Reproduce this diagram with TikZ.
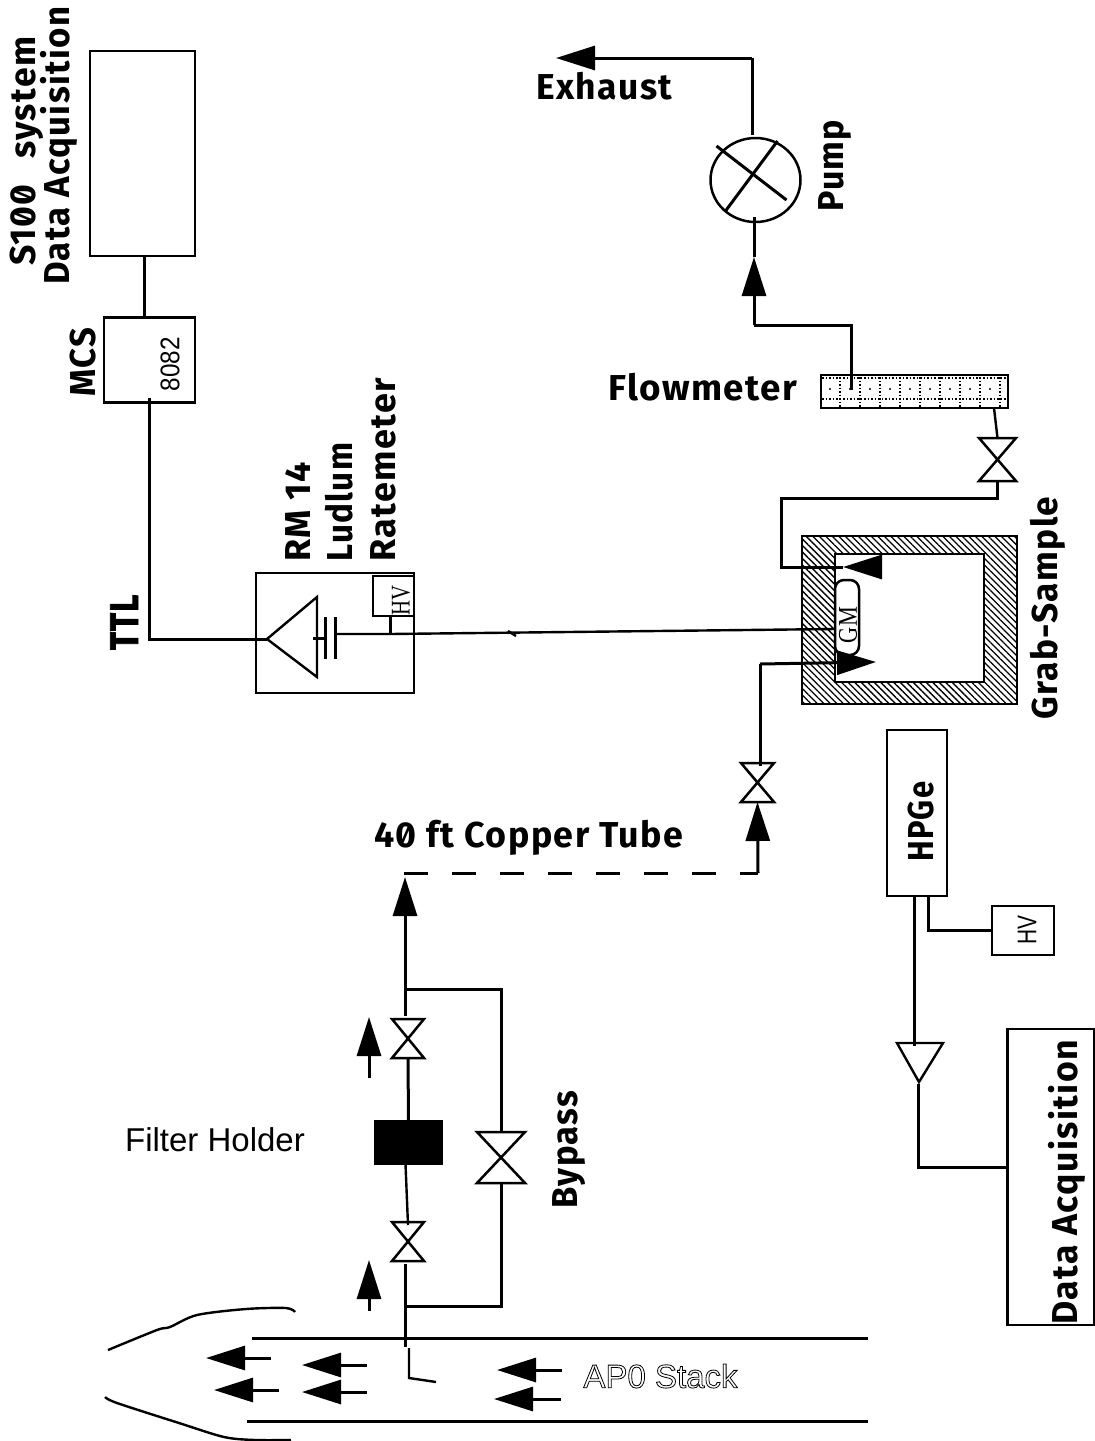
\documentclass[tikz,border=0pt]{standalone}
\usepackage{fontspec}
\setmainfont{Liberation Serif}
\setsansfont{Liberation Sans}
\newfontfamily\labfamily{Fira Sans}[Numbers=SlashedZero,LetterSpace=4]
\usetikzlibrary{arrows.meta, positioning, patterns.meta, shapes.geometric}
\newcommand{\lab}[2]{\resizebox{#1pt}{\height}{#2}}
\begin{document}
\begin{tikzpicture}[
   x=1pt, y=-1pt, line cap=butt,
   box/.style={draw, line width=2.5pt, inner sep=0pt, outer sep=0pt},
   pipe/.style={line width=3pt},
   wire/.style={line width=2.4pt},
   flow/.style={line width=3pt, -{Triangle[length=39pt,width=24pt]}},
   valve/.style={inner sep=0pt, outer sep=0pt, append after command={\pgfextra{
       \draw[line width=2.5pt] (\tikzlastnode.north west) -- (\tikzlastnode.south east)
          -- (\tikzlastnode.south west) -- (\tikzlastnode.north east) -- cycle;}}},
   stipple/.style={line width=1.5pt, dash pattern=on 1.5pt off 2pt},
   lab/.style={font=\labfamily\bfseries\fontsize{36}{40}\selectfont, inner sep=0pt, anchor=base west},
   vlab/.style={lab, rotate=90},
   plain/.style={font=\sffamily\fontsize{33}{36}\selectfont, inner sep=0pt},
   small/.style={font=\sffamily\fontsize{27}{29}\selectfont, rotate=90, inner sep=0pt},
   serif/.style={font=\rmfamily\fontsize{27}{29}\selectfont, rotate=90, inner sep=0pt}]
  \useasboundingbox (0,0) rectangle (1095,1441);

  \node[box, minimum width=105pt, minimum height=205pt] (s100) at (142.5,153.5) {};
  \node[box, minimum width=91pt, minimum height=85pt] (mcs) at (149.5,360) {};
  \node[small] (chip) at (170,364) {\lab{54}{8082}};
  \node[box, minimum width=158pt, minimum height=120pt] (rate) at (335,633) {};
  \node[box, minimum width=41pt, minimum height=40pt] (ratehv) at (393.5,596) {};
  \node[serif] (ratehvtext) at (401,600) {\lab{30}{HV}};

  \node[box, pattern={Lines[angle=-45,distance=4.6pt,line width=1.3pt]}, minimum width=215pt, minimum height=168pt] (grab) at (909.5,620) {};
  \node[box, fill=white, minimum width=149pt, minimum height=128pt] (cell) at (909.5,618) {};
  \node[box, fill=white, rounded corners=9pt, minimum width=24pt, minimum height=75pt] (gm) at (847,617.5) {};
  \node[serif] (gmtext) at (848,625) {\lab{36}{GM}};

  \foreach \i in {0,...,8} {
    \draw[stipple] (840+20*\i,377) -- (840+20*\i,407);
    \fill (830+20*\i,389) circle (1.2);
  }
  \draw[stipple] (822,378) -- (1007,378);
  \draw[stipple] (822,399) -- (1007,399);
  \node[box, minimum width=187pt, minimum height=33pt] (meter) at (914.5,391.5) {};
  \node[ellipse, draw, line width=2.5pt, inner sep=0pt, outer sep=0pt, minimum width=90pt, minimum height=84pt] (pump) at (755.5,180) {};

  \node[box, minimum width=60pt, minimum height=166pt] (hpge) at (917,813) {};
  \node[box, minimum width=62pt, minimum height=49pt] (hpgehv) at (1023,930.5) {};
  \node[small] (hpgehvtext) at (1027,930) {\lab{29}{HV}};
  \node[box, minimum width=87pt, minimum height=296pt] (daq) at (1051,1177) {};
  \node[box, fill=black, minimum width=67pt, minimum height=43pt] (holder) at (408.5,1142.5) {};

  \node[valve, minimum width=37pt, minimum height=43pt] (meterv) at (997.5,459.5) {};
  \node[valve, minimum width=33pt, minimum height=39pt] (tubev) at (757.5,782.5) {};
  \node[valve, minimum width=32pt, minimum height=39pt] (topv) at (408,1038.5) {};
  \node[valve, minimum width=32pt, minimum height=39pt] (lowv) at (408,1241.5) {};
  \node[valve, minimum width=48pt, minimum height=51pt] (bypassv) at (501,1157.5) {};

  \coordinate (ttlcorner) at (149,639);
  \coordinate (amptip) at (267,639);
  \coordinate (amptop) at (317,597);
  \coordinate (ampbot) at (317,677);
  \coordinate (platea) at (325,638);
  \coordinate (plateb) at (334,634);
  \coordinate (hvtee) at (390,634);
  \coordinate (gmin) at (835,629);
  \coordinate (kinka) at (508,631);
  \coordinate (kinkb) at (516,636);
  \coordinate (exhcorner) at (752,58);
  \coordinate (exhtip) at (556,58);
  \coordinate (pumpcorner) at (754,325);
  \coordinate (pumptip) at (754,257);
  \coordinate (meterin) at (851,390);
  \coordinate (meterout) at (781,498);
  \coordinate (grabback) at (781,567);
  \coordinate (grabtip) at (843,567);
  \coordinate (grabbase) at (880,567);
  \coordinate (grabin) at (760,664);
  \coordinate (grabhead) at (876,662);
  \coordinate (tubeend) at (758,873);
  \coordinate (tubeleft) at (404,873);
  \coordinate (tubetip) at (405,877);
  \coordinate (teehigh) at (405,989);
  \coordinate (teelow) at (405,1306);
  \coordinate (stackin) at (405,1347);
  \coordinate (deta) at (897,1043);
  \coordinate (detc) at (943,1043);
  \coordinate (dettip) at (919,1082);
  \coordinate (detcorner) at (918,1167);

  \draw[pipe] (144,256) -- (144,318);
  \draw[pipe] (149,398) -- (ttlcorner) -- (amptip);
  \draw[wire] (amptip) -- (amptop) -- (ampbot) -- cycle;
  \draw[pipe] (313,638) -- (platea);
  \draw[pipe] (325,617) -- (325,659);
  \draw[pipe] (335,617) -- (335,659);
  \draw[wire] (plateb) -- (hvtee) -- (gmin);
  \draw[wire] (kinka) -- (kinkb);
  \draw[pipe] (hvtee) -- (ratehv.south -| hvtee);

  \draw[pipe] (meterin) |- (pumpcorner);
  \draw[flow] (pumpcorner) -- (pumptip);
  \draw[pipe] (pumptip) -- ([xshift=-1.5pt,yshift=5pt]pump.south);
  \draw[pipe] ([xshift=-3.5pt,yshift=3pt]pump.north) -- (exhcorner);
  \draw[flow] (exhcorner) -- (exhtip);
  \draw[pipe] ([shift={(-39,-34)}]pump.center) -- ([shift={(31,20)}]pump.center);
  \draw[pipe] ([shift={(22,-39)}]pump.center) -- ([shift={(-30,31)}]pump.center);

  \draw[wire] (994,408) -- (meterv.north);
  \draw[pipe] (meterv.south) |- (meterout) -- (grabback) -- (grabtip);
  \draw[flow] (grabbase) -- (grabtip);
  \draw[pipe] ([xshift=2.5pt,yshift=-3pt]tubev.north) |- (grabin);
  \draw[flow] (grabin) -- (grabhead);

  \draw[flow] (tubeend) -- (tubev.south);
  \draw[pipe, dash pattern=on 24pt off 24pt] (tubeleft) -- (tubeend);
  \draw[flow] ([xshift=-3pt,yshift=3pt]topv.north) -- (tubetip);
  \draw[pipe] (topv.south) -- (holder.north);
  \draw[wire] ([xshift=-3pt]holder.south) -- ([yshift=-3pt]lowv.north);
  \draw[pipe] (stackin) -- ([xshift=-3pt,yshift=-3pt]lowv.south);
  \draw[pipe] (teelow) -| (bypassv.south);
  \draw[pipe] (bypassv.north) |- (teehigh);

  \draw[flow] (369,1078) -- (369,1017);
  \draw[flow] (369,1311) -- (369,1260);

  \draw[pipe] (914,896) -- (914,1046);
  \draw[wire] (deta) -- (detc) -- (dettip) -- cycle;
  \draw[pipe] (918,1084) -- (detcorner) -- (daq.west |- detcorner);
  \draw[pipe] (928,896) |- (hpgehv.west);

  \draw[pipe] (252,1338) -- (868,1338);
  \draw[pipe] (247,1421) -- (868,1421);
  \draw[wire] (409,1348) -- (409,1378) -- (436,1382);
  \draw[wire] plot[smooth] coordinates {(108,1350) (157,1330) (170,1327) (197,1315) (246,1309) (286,1308) (295,1312)};
  \draw[wire] plot[smooth] coordinates {(105,1397) (117,1403) (179,1423) (224,1437) (255,1440) (291,1440)};
  \foreach \xa/\xb/\yy in {271/206/1358, 279/214/1390, 367/302/1365, 367/302/1392, 562/497/1370, 561/494/1399}
    \draw[flow] (\xa,\yy) -- (\xb,\yy);

  \node[vlab] (sysa) at (35,266) {\lab{229}{S100\hspace{.45em} system}};
  \node[vlab] (sysb) at (70,285) {\lab{278}{Data Acquisition}};
  \node[vlab] (mcslab) at (95,397) {\lab{69}{MCS}};
  \node[vlab, font=\labfamily\bfseries\fontsize{40}{44}\selectfont] (ttl) at (138,650) {\lab{55}{\special{pdf:code 2 Tr 0.9 w}TTL\special{pdf:code 0 Tr}}};
  \node[vlab] (rm) at (310,562) {\lab{100}{RM 14}};
  \node[vlab] (ludlum) at (352,562) {\lab{119}{Ludlum}};
  \node[vlab] (ratemeter) at (395,562) {\lab{184}{Ratemeter}};
  \node[vlab] (pumplab) at (843,212) {\lab{92}{Pump}};
  \node[vlab] (grablab) at (1057,720) {\lab{223}{Grab-Sample}};
  \node[vlab] (hpgelab) at (933,862) {\lab{80}{HPGe}};
  \node[vlab] (bypasslab) at (577,1209) {\lab{118}{Bypass}};
  \node[vlab] (daqlab) at (1077,1325) {\lab{285}{Data Acquisition}};
  \node[lab] (exhaust) at (536,99) {\lab{136}{Exhaust}};
  \node[lab] (flowlab) at (608,400) {\lab{189}{Flowmeter}};
  \node[lab] (tubelab) at (374,847) {\lab{309}{40 ft Copper Tube}};
  \node[plain] (filter) at (215,1140) {Filter Holder};
  \node[plain] (stack) at (660.5,1376) {\special{pdf:code 1 Tr 0.8 w}AP0 Stack\special{pdf:code 0 Tr}};
\end{tikzpicture}
\end{document}
